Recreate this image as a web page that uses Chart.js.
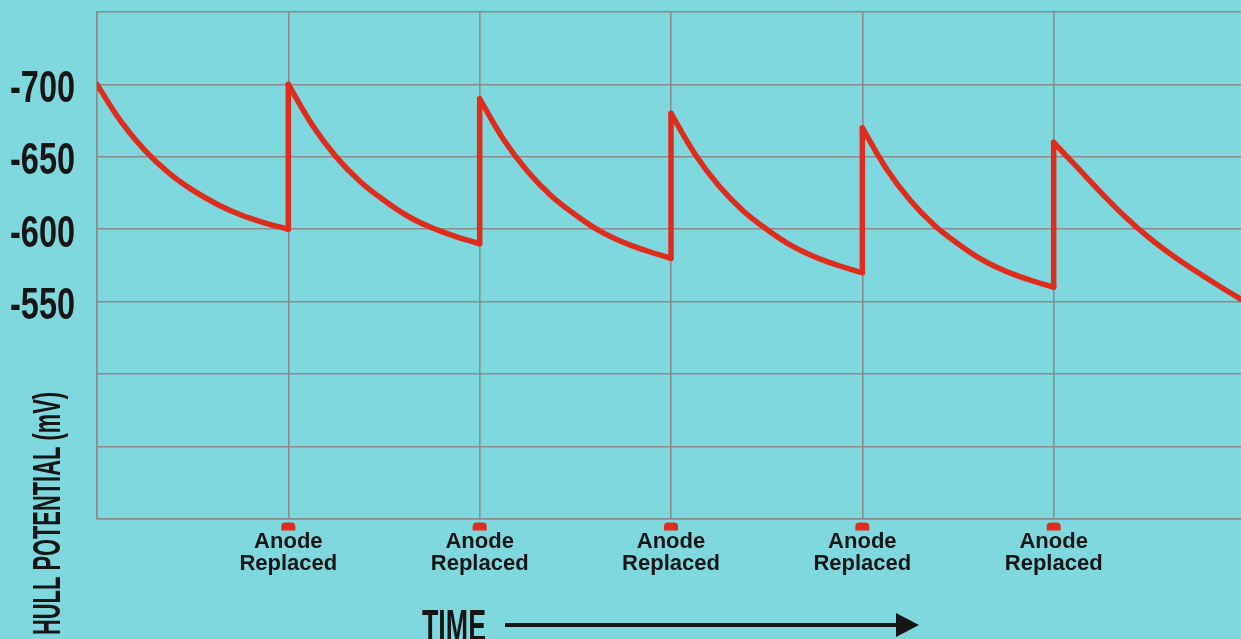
<!DOCTYPE html>
<html>
<head>
<meta charset="utf-8">
<script src="https://cdn.jsdelivr.net/npm/chart.js@4.4.1/dist/chart.umd.min.js"></script>
<style>
  html, body { margin: 0; padding: 0; background: #7fd8de; overflow: hidden; }
</style>
</head>
<body>
<div id="wrap"><canvas id="chart"></canvas></div>
<script>
// where each sample sits inside one interval between anode changes
const cycleSteps = [0, 0.125, 0.25, 0.375, 0.5, 0.625, 0.75, 0.875, 1];

// hull potential (mV) along each cycle
const cycle1 = [-700, -674.5, -654.5, -639, -627, -617.5, -610, -604.5, -600];
const cycle2 = [-700, -672, -650, -633, -620, -609, -601, -595, -590];
const cycle3 = [-690, -662, -640, -623, -610, -599, -591, -585, -580];
const cycle4 = [-680, -652, -630, -613, -600, -589, -581, -575, -570];
const cycle5 = [-670, -642, -620, -603, -590, -579, -571, -565, -560];
const cycle6 = [-660, -642.5, -625, -608.5, -594, -581.5, -570.5, -560, -550];
const cycles = [cycle1, cycle2, cycle3, cycle4, cycle5, cycle6];

const anodeChanges = [1, 2, 3, 4, 5];
const anodeLabel = ['Anode', 'Replaced'];
const yTickLabels = [-700, -650, -600, -550];

const red = '#df2d1d';
const ink = '#161616';
const grid = '#8a8c8d';
const xPad = 12;

// canvas a bit wider than the window so the last interval runs off the edge
const canvas = document.getElementById('chart');
canvas.width = 1245 + xPad;
canvas.height = 639;

// curve pieces
const datasets = cycles.map((c, i) => ({
    data: c.map((v, k) => ({ x: i + cycleSteps[k], y: v })),
    borderColor: red,
    borderWidth: 5.5,
    borderCapStyle: 'round',
    tension: 0.4,
    pointRadius: 0
}));

// vertical jumps when an anode is replaced
const jumps = [];
anodeChanges.forEach(t => {
    jumps.push({ x: t, y: cycles[t - 1][cycles[t - 1].length - 1] });
    jumps.push({ x: t, y: cycles[t][0] });
    jumps.push({ x: t, y: null });
});
datasets.push({
    data: jumps,
    borderColor: red,
    borderWidth: 5.5,
    borderCapStyle: 'round',
    tension: 0,
    spanGaps: false,
    pointRadius: 0
});

// draws text squeezed to a given width (stand-in for a condensed face)
function squeezed(ctx, text, px, py, width, align) {
    const w = ctx.measureText(text).width;
    ctx.save();
    ctx.translate(px, py);
    ctx.scale(width / w, 1);
    ctx.textAlign = align;
    ctx.fillText(text, 0, 0);
    ctx.restore();
}

const decor = {
    id: 'decor',
    afterDraw(chart) {
        const { ctx, chartArea } = chart;
        const x = chart.scales.x;
        const y = chart.scales.y;
        ctx.save();
        // little red tabs under each replacement
        ctx.fillStyle = red;
        anodeChanges.forEach(t => {
            const px = x.getPixelForValue(t);
            ctx.beginPath();
            ctx.roundRect(px - 7, chartArea.bottom + 3.5, 14, 8, [4, 4, 0, 0]);
            ctx.fill();
        });

        ctx.fillStyle = ink;
        ctx.textBaseline = 'alphabetic';

        // y tick labels
        ctx.font = 'bold 45px "Liberation Sans", Arial, sans-serif';
        const sx = 65 / ctx.measureText('-700').width;
        yTickLabels.forEach(v => {
            const py = y.getPixelForValue(v);
            ctx.save();
            ctx.translate(75, py + 17.5);
            ctx.scale(sx, 1);
            ctx.textAlign = 'right';
            ctx.fillText(String(v), 0, 0);
            ctx.restore();
        });

        // y axis title, bottom aligned
        ctx.font = 'bold 39px "Liberation Sans", Arial, sans-serif';
        ctx.save();
        ctx.translate(60, 635);
        ctx.rotate(-Math.PI / 2);
        squeezed(ctx, 'HULL POTENTIAL (mV)', 0, 0, 243, 'left');
        ctx.restore();

        // TIME + arrow
        ctx.font = 'bold 45px "Liberation Sans", Arial, sans-serif';
        squeezed(ctx, 'TIME', 422, 641, 64, 'left');

        ctx.fillRect(505, 623, 393, 4);
        ctx.beginPath();
        ctx.moveTo(896, 613);
        ctx.lineTo(919, 625);
        ctx.lineTo(896, 637);
        ctx.closePath();
        ctx.fill();
        ctx.restore();
    }
};

new Chart(canvas, {
    type: 'line',
    data: { datasets },
    plugins: [decor],
    options: {
        responsive: false,
        animation: false,
        devicePixelRatio: 1,
        layout: { padding: { top: 12, left: 0, right: 0, bottom: 0 } },
        plugins: {
            legend: { display: false },
            tooltip: { enabled: false }
        },
        scales: {
            x: {
                type: 'linear',
                min: 0,
                max: 6,
                afterFit: s => { s.height = 120; },
                grid: { color: grid, lineWidth: 1.6, drawTicks: false },
                border: { color: grid, width: 1.6 },
                ticks: {
                    stepSize: 1,
                    autoSkip: false,
                    maxRotation: 0,
                    padding: xPad,
                    color: ink,
                    font: { family: '"Liberation Sans", Arial, sans-serif', size: 22, weight: 'bold', lineHeight: 1.0 },
                    callback: v => anodeChanges.includes(v) ? anodeLabel : ''
                }
            },
            y: {
                type: 'linear',
                reverse: true,
                min: -750,
                max: -400,
                afterFit: s => { s.width = 97; },
                grid: { color: grid, lineWidth: 1.6, drawTicks: false },
                border: { color: grid, width: 1.6 },
                ticks: { stepSize: 50, display: false }
            }
        }
    }
});
</script>
</body>
</html>
